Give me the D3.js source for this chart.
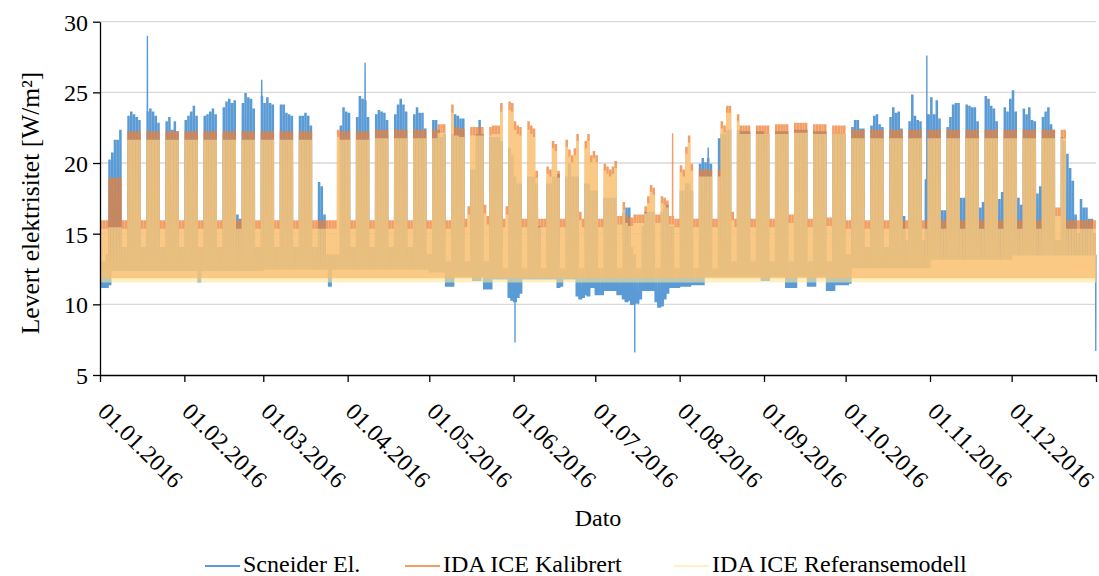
<!DOCTYPE html>
<html>
<head>
<meta charset="utf-8">
<script src="https://cdn.jsdelivr.net/npm/d3@7"></script>
<style>
  html, body { margin: 0; padding: 0; background: #ffffff; }
  svg { display: block; font-family: "Liberation Serif", "Times New Roman", serif; }
</style>
</head>
<body>
<svg id="chart" width="1099" height="576"></svg>
<script>
// Delivered electricity 2016, one value per day for working hours (day) and off hours (night).
// Day index 0 = 01.01.2016 (Friday), 365 = 31.12.2016.

const seriesNames = ["Scneider El.", "IDA ICE Kalibrert", "IDA ICE Referansemodell"];
const yTicks = [5, 10, 15, 20, 25, 30];
const monthLabels = ["01.01.2016","01.02.2016","01.03.2016","01.04.2016","01.05.2016","01.06.2016",
                     "01.07.2016","01.08.2016","01.09.2016","01.10.2016","01.11.2016","01.12.2016"];

// Measured (Scneider El.) – working-hours level per day
const measuredDay = [
  13.0,13.0,13.5,20.2,20.7,21.6,21.6,22.3,14.0,14.0,23.3,23.6,23.4,23.2,23.0,14.0,14.0,23.6,23.8,23.6,23.3,22.8,14.0,14.0,22.9,23.2,22.3,22.9,22.2,14.0,14.0,
  23.0,23.3,23.6,24.0,23.3,14.0,14.0,23.3,23.4,23.6,23.8,23.4,14.0,14.0,23.9,24.3,24.5,24.2,24.4,16.3,16.0,24.2,24.9,24.6,24.5,23.8,14.0,14.0,24.7,
  24.2,24.6,24.2,24.1,14.0,14.0,24.1,24.1,23.5,23.4,23.3,14.0,14.0,23.3,23.3,23.5,23.3,22.6,14.0,14.0,18.6,18.3,16.3,13.5,13.5,13.5,13.5,13.5,22.6,23.9,23.6,
  23.5,14.0,14.0,23.2,24.7,24.5,24.4,23.2,14.0,14.0,23.4,23.7,23.6,23.5,23.0,14.0,14.0,23.4,24.1,24.5,24.1,23.6,14.0,14.0,23.4,23.9,23.5,23.5,22.4,13.5,
  13.5,23.0,23.0,22.3,21.8,22.0,13.0,13.0,22.0,23.4,23.3,23.1,23.1,13.0,13.0,19.5,19.5,22.0,23.0,22.0,13.0,13.0,21.8,21.8,21.8,21.8,21.5,12.5,12.5,21.0,20.5,
  19.0,18.5,18.5,12.5,12.5,19.0,19.0,19.0,18.5,15.5,12.5,12.5,18.5,18.5,19.0,19.0,19.2,12.5,12.5,19.0,19.9,19.0,19.0,19.0,12.5,12.5,18.5,18.5,18.0,18.0,
  18.0,12.5,12.5,17.5,17.5,17.5,17.5,17.5,12.5,12.5,16.5,16.8,16.8,14.0,13.5,12.5,12.5,15.5,16.5,16.5,16.5,16.5,12.5,12.5,16.5,17.0,17.0,15.5,15.5,12.5,12.5,
  18.0,18.0,18.5,18.5,18.0,12.5,12.5,19.9,20.3,20.0,20.3,19.9,12.5,12.5,21.7,22.0,22.0,22.3,22.3,13.0,13.0,22.3,22.2,22.2,22.2,22.2,13.0,13.0,22.2,22.2,22.2,
  22.0,22.0,13.0,13.0,22.2,22.2,22.2,22.2,22.2,13.0,13.0,22.3,22.3,22.3,22.3,22.3,13.0,13.0,22.2,22.2,22.2,22.2,22.2,13.0,13.0,22.0,22.0,22.0,22.0,22.0,
  13.5,13.5,22.5,23.0,23.0,22.4,22.4,14.0,14.0,22.6,23.3,23.4,22.7,22.5,14.0,14.0,23.2,23.9,23.5,23.6,22.4,16.2,14.5,22.9,24.8,23.3,23.0,22.9,14.5,18.8,23.4,
  24.6,23.4,24.4,23.1,16.6,16.6,22.5,23.2,24.1,24.2,24.2,17.5,17.5,24.1,24.0,23.9,23.9,22.9,16.8,17.2,24.7,24.5,24.0,23.8,22.9,17.4,17.9,23.9,23.6,24.5,
  25.1,23.6,17.5,17.0,23.8,23.4,23.9,23.0,22.9,17.8,18.3,23.2,23.6,23.9,22.7,22.3,14.5,14.5,21.8,21.5,20.6,19.6,18.7,16.3,15.0,17.4,16.8,16.8,16.0,16.0,15.0
];

// Measured – off-hours level per day
const measuredNight = [
  11.2,11.2,11.2,11.4,12.4,12.4,12.4,12.4,12.4,12.4,12.4,12.4,12.4,12.4,12.4,12.4,12.4,12.4,12.4,12.4,12.4,12.4,12.4,12.4,12.4,12.4,12.4,12.4,12.4,12.4,12.4,
  12.4,12.4,12.4,12.4,12.4,11.6,12.4,12.4,12.4,12.4,12.4,12.4,12.4,12.4,12.4,12.4,12.4,12.4,12.4,12.4,12.4,12.4,12.4,12.4,12.4,12.4,12.4,12.4,12.4,
  12.5,12.5,12.5,12.5,12.5,12.5,12.5,12.5,12.5,12.5,12.5,12.5,12.5,12.5,12.5,12.5,12.5,12.5,12.5,12.5,12.5,12.5,12.5,12.5,11.3,12.5,12.5,12.5,12.5,12.5,12.5,
  12.5,12.5,12.5,12.5,12.5,12.5,12.5,12.5,12.5,12.5,12.5,12.5,12.5,12.5,12.5,12.5,12.5,12.5,12.5,12.5,12.5,12.5,12.5,12.5,12.5,12.5,12.5,12.5,12.5,12.5,
  12.3,12.3,12.3,12.3,12.3,12.3,11.3,11.3,11.3,12.0,12.0,12.0,12.0,12.0,12.0,12.0,11.7,11.7,11.7,12.0,11.1,11.1,11.1,11.8,11.8,11.8,11.8,11.8,11.8,10.5,10.3,
  10.2,10.5,10.8,11.8,11.8,11.8,11.8,11.8,11.8,11.8,11.8,11.8,11.8,11.8,11.8,11.8,11.2,11.3,11.8,11.8,11.8,11.8,11.8,10.6,10.4,10.5,10.7,10.6,11.2,11.2,
  10.7,10.7,10.7,11.0,11.0,11.0,11.0,11.0,10.7,10.7,10.4,10.2,10.3,10.0,10.2,10.1,10.4,11.0,11.0,11.0,11.0,11.0,10.2,9.8,9.9,10.4,10.8,11.2,11.2,11.2,11.2,
  11.3,11.3,11.3,11.3,11.4,11.4,11.4,11.4,11.4,12.0,12.0,12.0,12.0,12.0,12.0,12.0,12.0,12.0,12.0,12.0,12.0,12.0,12.0,12.0,12.0,12.0,12.0,12.0,12.0,12.0,11.7,
  11.7,11.7,12.0,12.0,12.0,12.0,12.0,12.0,11.2,11.2,11.2,11.2,12.0,12.0,12.0,12.0,11.3,11.3,11.3,12.0,12.0,12.0,12.0,11.0,11.0,11.0,11.4,11.4,11.4,11.4,
  11.4,11.5,12.6,12.6,12.6,12.6,12.6,12.6,12.6,12.6,12.6,12.6,12.6,12.6,12.6,12.6,12.6,12.6,12.6,12.6,12.6,12.6,12.6,12.6,12.6,12.6,12.6,12.6,12.6,12.6,12.6,
  13.2,13.2,13.2,13.2,13.2,13.2,13.2,13.2,13.2,13.2,13.2,13.2,13.2,13.2,13.2,13.2,13.2,13.2,13.2,13.2,13.2,13.2,13.2,13.2,13.2,13.2,13.2,13.2,13.2,13.2,
  13.5,13.5,13.5,13.5,13.5,13.5,13.5,13.5,13.5,13.5,13.5,13.5,13.5,13.5,13.5,13.5,13.5,13.5,13.5,13.5,13.5,13.5,13.5,13.5,13.5,13.5,13.5,13.5,13.5,13.5,13.5
];

// Single-hour extremes of the measured series
const measuredSpikes = [
  { day: 17,  hour: 10, value: 29.0 },
  { day: 59,  hour: 10, value: 25.9 },
  { day: 97,  hour: 10, value: 27.1 },
  { day: 152, hour: 12, value: 7.3 },
  { day: 196, hour: 12, value: 6.6 },
  { day: 223, hour: 12, value: 21.1 },
  { day: 303, hour: 20, value: 27.6 },
  { day: 365, hour: 22, value: 6.7 }
];

// IDA ICE Kalibrert – working-hours level per day
const calibratedDay = [
  15.9,15.9,15.9,18.9,18.9,18.9,18.9,18.9,15.9,15.9,22.2,22.2,22.2,22.2,22.2,15.9,15.9,22.2,22.2,22.2,22.2,22.2,15.9,15.9,22.2,22.2,22.2,22.2,22.2,15.9,15.9,
  22.2,22.2,22.2,22.2,22.2,15.9,15.9,22.2,22.2,22.2,22.2,22.2,15.9,15.9,22.2,22.2,22.2,22.2,22.2,15.9,15.9,22.2,22.2,22.2,22.2,22.2,15.9,15.9,22.2,
  22.2,22.2,22.2,22.2,15.9,15.9,22.2,22.2,22.2,22.2,22.2,15.9,15.9,22.2,22.2,22.2,22.2,22.2,15.9,15.9,15.9,15.9,15.9,15.9,15.9,15.9,15.9,22.3,22.2,22.2,22.2,
  22.2,15.9,15.9,22.2,22.2,22.2,22.2,22.2,15.9,15.9,22.3,22.3,22.3,22.3,22.3,15.9,15.9,22.3,22.3,22.3,22.3,22.3,15.9,15.9,22.3,22.3,22.3,22.3,22.3,15.9,
  15.9,22.3,22.3,22.7,22.7,22.7,15.9,15.9,24.1,22.5,22.5,22.4,22.4,16.0,16.9,22.5,22.5,22.5,22.5,22.5,17.0,16.2,22.5,22.6,22.6,22.6,24.2,16.0,16.9,24.3,24.2,
  22.9,22.6,22.5,16.0,16.0,22.9,22.6,22.4,19.4,16.0,16.0,16.0,19.7,19.5,21.5,21.3,19.4,16.0,16.0,21.6,20.9,20.5,21.0,22.0,16.5,16.0,21.5,22.0,20.5,20.8,
  20.5,16.0,16.0,19.9,19.7,19.5,19.7,20.1,16.2,16.2,17.2,16.3,16.1,16.1,16.3,16.3,16.3,16.3,16.9,17.6,18.4,18.2,16.3,16.3,17.6,17.5,17.3,16.2,16.2,16.0,16.0,
  19.8,19.5,21.1,21.9,19.9,16.0,16.0,19.5,19.5,19.5,19.5,19.5,16.0,16.0,19.5,22.9,22.6,24.0,24.0,16.5,16.0,23.4,22.6,22.6,22.6,22.6,16.0,16.0,22.6,22.6,22.6,
  22.6,22.6,16.0,16.0,22.7,22.7,22.7,22.7,22.7,16.3,16.3,22.8,22.8,22.8,22.8,22.8,16.0,16.0,22.7,22.7,22.7,22.7,22.7,16.1,16.1,22.6,22.6,22.6,22.6,22.6,
  15.9,15.9,22.3,22.3,22.3,22.3,22.3,15.9,15.9,22.3,22.3,22.3,22.3,22.3,15.9,15.9,22.3,22.3,22.3,22.3,22.3,15.9,15.9,22.3,22.3,22.3,22.3,22.3,15.9,15.9,22.3,
  22.3,22.3,22.3,22.3,15.9,15.9,22.3,22.3,22.3,22.3,22.3,15.9,15.9,22.3,22.3,22.3,22.3,22.3,15.9,15.9,22.3,22.3,22.3,22.3,22.3,15.9,15.9,22.3,22.3,22.3,
  22.3,22.3,15.9,15.9,22.3,22.3,22.3,22.3,22.3,15.9,15.9,22.3,22.3,22.3,22.3,22.3,16.8,16.8,22.3,22.3,15.9,15.9,15.9,15.9,15.9,15.9,15.9,15.9,15.9,15.9,15.9
];
const calibratedSpikes = [ { day: 210, hour: 10, value: 22.1 } ];

// IDA ICE Referansemodell – working-hours level per day
const referenceDay = [
  15.3,15.3,15.3,15.4,15.4,15.4,15.4,15.4,15.3,15.3,21.6,21.6,21.6,21.6,21.6,15.3,15.3,21.6,21.6,21.6,21.6,21.6,15.3,15.3,21.6,21.6,21.6,21.6,21.6,15.3,15.3,
  21.6,21.6,21.6,21.6,21.6,15.3,15.3,21.6,21.6,21.6,21.6,21.6,15.3,15.3,21.6,21.6,21.6,21.6,21.6,15.3,15.3,21.6,21.6,21.6,21.6,21.6,15.3,15.3,21.6,
  21.6,21.6,21.6,21.6,15.3,15.3,21.6,21.6,21.6,21.6,21.6,15.3,15.3,21.6,21.6,21.6,21.6,21.6,15.3,15.3,15.3,15.3,15.3,15.3,15.3,15.3,15.3,21.8,21.6,21.6,21.6,
  21.6,15.3,15.3,21.6,21.6,21.6,21.6,21.6,15.3,15.3,21.7,21.7,21.7,21.7,21.7,15.3,15.3,21.7,21.7,21.7,21.7,21.7,15.3,15.3,21.7,21.7,21.7,21.7,21.7,15.3,
  15.3,21.7,21.7,22.1,22.1,22.1,15.3,15.3,23.5,21.9,21.9,21.8,21.8,15.4,16.3,21.9,21.9,21.9,21.9,21.9,16.4,15.6,21.9,22.0,22.0,22.0,23.6,15.4,16.3,23.7,23.6,
  22.3,22.0,21.9,15.4,15.4,22.3,22.0,21.8,18.9,15.4,15.4,15.4,19.2,19.0,21.0,20.8,18.9,15.4,15.4,21.1,20.4,20.0,20.5,21.5,15.9,15.4,21.0,21.5,20.0,20.3,
  20.0,15.4,15.4,19.4,19.2,19.0,19.2,19.6,15.6,15.6,16.6,15.7,15.5,15.5,15.7,15.7,15.7,15.7,16.4,17.1,17.9,17.7,15.7,15.7,17.1,17.0,16.8,15.6,15.6,15.4,15.4,
  19.3,19.0,20.6,21.4,19.4,15.4,15.4,19.0,19.0,19.0,19.0,19.0,15.4,15.4,19.0,22.4,22.1,23.5,23.5,15.9,15.4,22.9,22.0,22.0,22.0,22.0,15.4,15.4,22.0,22.0,22.0,
  22.0,22.0,15.4,15.4,22.0,22.0,22.0,22.0,22.0,15.7,15.7,22.1,22.1,22.1,22.1,22.1,15.4,15.4,22.0,22.0,22.0,22.0,22.0,15.5,15.5,22.0,22.0,22.0,22.0,22.0,
  15.3,15.3,21.7,21.7,21.7,21.7,21.7,15.3,15.3,21.7,21.7,21.7,21.7,21.7,15.3,15.3,21.7,21.7,21.7,21.7,21.7,15.3,15.3,21.7,21.7,21.7,21.7,21.7,15.3,15.3,21.7,
  21.7,21.7,21.7,21.7,15.3,15.3,21.7,21.7,21.7,21.7,21.7,15.3,15.3,21.7,21.7,21.7,21.7,21.7,15.3,15.3,21.7,21.7,21.7,21.7,21.7,15.3,15.3,21.7,21.7,21.7,
  21.7,21.7,15.3,15.3,21.7,21.7,21.7,21.7,21.7,15.3,15.3,21.7,21.7,21.7,21.7,21.7,16.2,16.2,21.7,21.7,15.3,15.3,15.3,15.3,15.3,15.3,15.3,15.3,15.3,15.3,15.3
];

// Off-hours base level of the two simulations, per month
const calibratedNightMonthly = [11.9, 11.9, 11.9, 11.9, 11.9, 11.9, 11.9, 11.9, 11.9, 11.9, 11.9, 11.9];
const referenceNightMonthly  = [11.6, 11.6, 11.6, 11.6, 11.6, 11.6, 11.6, 11.6, 11.6, 11.6, 11.6, 11.6];

// ---------------------------------------------------------------------------
const WORK_START = 7, WORK_END = 18;       // hours drawn at the working-hours level
const T0 = Date.UTC(2016, 0, 1);
const DAY_MS = 86400000;
const dateOf = t => new Date(T0 + t * DAY_MS);
const monthOfDay = d => dateOf(d).getUTCMonth();

function hourly(dayVals, nightOf, spikes) {
  const pts = [];
  dayVals.forEach((dv, d) => {
    for (let h = 0; h < 24; h++) {
      const v = (h >= WORK_START && h < WORK_END) ? dv : nightOf(d);
      pts.push({ t: d + h / 24, v });
    }
  });
  spikes.forEach(s => { pts[s.day * 24 + s.hour].v = s.value; });
  return pts;
}

const measured   = hourly(measuredDay,   d => measuredNight[d], measuredSpikes);
const calibrated = hourly(calibratedDay, d => calibratedNightMonthly[monthOfDay(d)], calibratedSpikes);
const reference  = hourly(referenceDay,  d => referenceNightMonthly[monthOfDay(d)], []);

const svg = d3.select("#chart");
const margin = { left: 100, right: 1096, top: 21.7, bottom: 375 };

const x = d3.scaleUtc().domain([new Date(T0), new Date(Date.UTC(2017, 0, 1))]).range([margin.left, margin.right]);
const y = d3.scaleLinear().domain([5, 30]).range([margin.bottom, margin.top]);

// horizontal gridlines
svg.append("g")
  .selectAll("line")
  .data(yTicks.filter(v => v > 5))
  .join("line")
  .attr("x1", margin.left).attr("x2", margin.right)
  .attr("y1", d => y(d)).attr("y2", d => y(d))
  .attr("stroke", "#d9d9d9").attr("stroke-width", 1.3);

const styles = [
  { data: measured,   color: "#5b9bd5", opacity: 1 },
  { data: calibrated, color: "#ed7d31", opacity: 0.75 },
  { data: reference,  color: "#ffe699", opacity: 0.6 }
];

const line = d3.line().x(p => x(dateOf(p.t))).y(p => y(p.v));

svg.append("g")
  .selectAll("path")
  .data(styles)
  .join("path")
  .attr("d", s => line(s.data))
  .attr("fill", "none")
  .attr("stroke", s => s.color)
  .attr("stroke-opacity", s => s.opacity)
  .attr("stroke-width", 1.4)
  .attr("stroke-linejoin", "miter");

// y axis
const yAxis = svg.append("g")
  .attr("transform", `translate(${margin.left},0)`)
  .call(d3.axisLeft(y).tickValues(yTicks).tickSize(7).tickPadding(5).tickSizeOuter(0));
yAxis.select(".domain").attr("stroke", "#000").attr("stroke-width", 1.3);
yAxis.selectAll(".tick line").attr("stroke", "#000").attr("stroke-width", 1.3);
yAxis.selectAll(".tick text")
  .attr("font-family", "Liberation Serif, Times New Roman, serif")
  .attr("font-size", 24).attr("fill", "#000").attr("dy", "0.35em");

// x axis with month ticks
const monthTicks = d3.utcMonth.range(new Date(T0), new Date(Date.UTC(2017, 0, 2)));
const fmt = d3.utcFormat("%d.%m.%Y");
const xAxis = svg.append("g")
  .attr("transform", `translate(0,${margin.bottom})`)
  .call(d3.axisBottom(x).tickValues(monthTicks).tickSize(7).tickSizeOuter(0)
        .tickFormat(d => monthLabels.includes(fmt(d)) ? fmt(d) : ""));
xAxis.select(".domain").attr("stroke", "#000").attr("stroke-width", 1.3);
xAxis.selectAll(".tick line").attr("stroke", "#000").attr("stroke-width", 1.3);
xAxis.selectAll(".tick text")
  .attr("font-family", "Liberation Serif, Times New Roman, serif")
  .attr("font-size", 24).attr("fill", "#000")
  .attr("text-anchor", "start")
  .attr("x", 0).attr("y", 0).attr("dy", 0)
  .attr("transform", "translate(-4,38) rotate(45)");

// axis titles
svg.append("text")
  .attr("x", 598).attr("y", 526)
  .attr("text-anchor", "middle")
  .attr("font-size", 24).attr("fill", "#000")
  .text("Dato");

svg.append("text")
  .attr("transform", "translate(39,203) rotate(-90)")
  .attr("text-anchor", "middle")
  .attr("font-size", 25.5).attr("fill", "#000")
  .text("Levert elektrisitet [W/m²]");

// legend
const legendX = [205, 405, 674];
const legend = svg.append("g")
  .selectAll("g")
  .data(styles.map((s, i) => ({ ...s, name: seriesNames[i], x0: legendX[i] })))
  .join("g");
legend.append("line")
  .attr("x1", d => d.x0).attr("x2", d => d.x0 + 35)
  .attr("y1", 566).attr("y2", 566)
  .attr("stroke", d => d.color).attr("stroke-opacity", d => d.opacity)
  .attr("stroke-width", 2.2);
legend.append("text")
  .attr("x", d => d.x0 + 38).attr("y", 572)
  .attr("font-size", 24).attr("fill", "#000")
  .text(d => d.name);
</script>
</body>
</html>
